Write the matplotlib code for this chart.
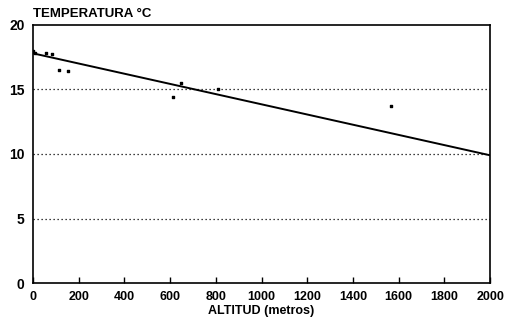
import matplotlib
matplotlib.use("Agg")
import matplotlib.pyplot as plt
import numpy as np

# Observed stations: altitude (m) and mean temperature (°C)
altitud = [0, 10, 56, 84, 115, 155, 614, 648, 811, 1565]
temperatura = [18.0, 17.8, 17.8, 17.75, 16.5, 16.45, 14.45, 15.5, 15.05, 13.7]

# Fitted regression line end points
recta_x = [0, 2000]
recta_y = [17.8, 9.9]

x_ticks = [0, 200, 400, 600, 800, 1000, 1200, 1400, 1600, 1800, 2000]
y_ticks = [0, 5, 10, 15, 20]
grid_levels = [5, 10, 15]

plt.rcParams['font.family'] = ['Liberation Sans', 'DejaVu Sans']

fig = plt.figure(figsize=(5.09, 3.28), dpi=100)
ax = fig.add_axes([0.0648, 0.137, 0.898, 0.787])

for g in grid_levels:
    ax.axhline(g, color='black', lw=0.9, ls=(0, (1, 2.2)), zorder=1)

ax.plot(recta_x, recta_y, color='black', lw=1.4, zorder=3)
ax.scatter(altitud, temperatura, s=4, color='black', marker='s', zorder=4)

ax.set_xlim(0, 2000)
ax.set_ylim(0, 20)
ax.set_xticks(x_ticks)
ax.set_yticks(y_ticks)
ax.tick_params(axis='x', direction='in', length=4, width=1, pad=6,
               labelsize=9)
ax.tick_params(axis='y', length=0, pad=6, labelsize=10)
for lab in ax.get_xticklabels() + ax.get_yticklabels():
    lab.set_fontweight('bold')
for s in ax.spines.values():
    s.set_linewidth(1.2)

ax.set_xlabel('ALTITUD (metros)', fontsize=9, fontweight='bold', labelpad=1)
fig.text(0.065, 0.958, 'TEMPERATURA °C', fontsize=9.5, fontweight='bold',
         ha='left', va='center')

fig.savefig('out.png', dpi=100)
